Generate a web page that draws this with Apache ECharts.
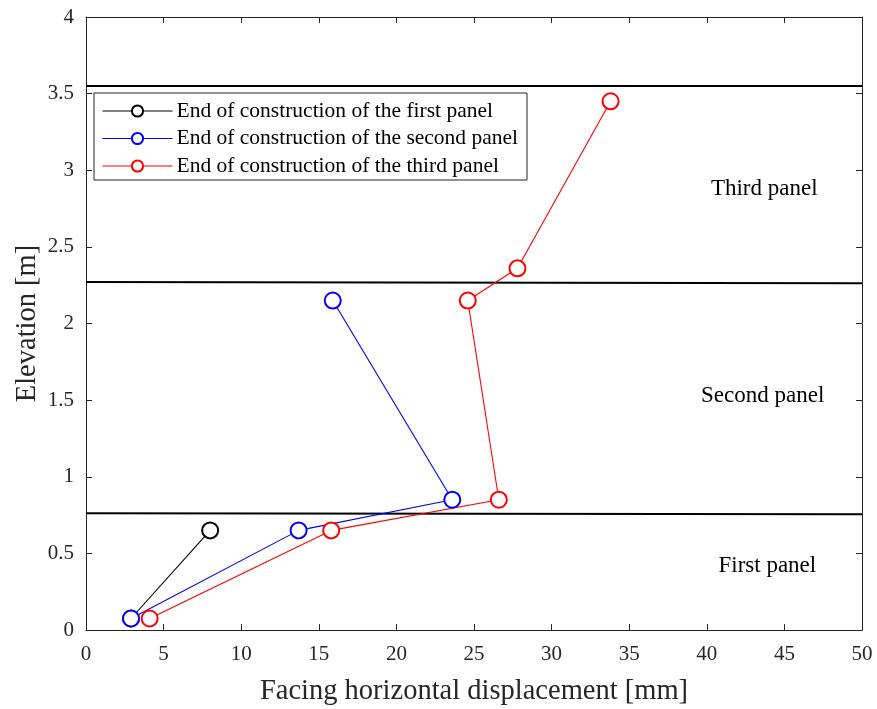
<!DOCTYPE html>
<html style="height: 100%">
<head>
  <meta charset="utf-8">
</head>
<body style="height: 100%; margin: 0">
  <div id="container" style="width: 877px; height: 709px"></div>
  <script type="text/javascript" src="https://fastly.jsdelivr.net/npm/echarts@6.0.0/dist/echarts.min.js"></script>
  <script type="text/javascript">
    // data
    var firstPanel = [[2.9, 0.075], [8.0, 0.65]];
    var secondPanel = [[2.9, 0.075], [13.7, 0.65], [23.6, 0.85], [15.9, 2.15]];
    var thirdPanel = [[4.1, 0.075], [15.8, 0.65], [26.6, 0.85], [24.6, 2.15], [27.8, 2.36], [33.8, 3.45]];
    var seriesNames = [
      'End of construction of the first panel',
      'End of construction of the second panel',
      'End of construction of the third panel'
    ];
    // panel boundaries (slightly sloped in the original)
    var boundaries = [
      [[0, 3.55], [50, 3.55]],
      [[0, 2.27], [50, 2.262]],
      [[0, 0.762], [50, 0.755]]
    ];
    var panelLabels = [
      { name: 'Third panel', value: [43.7, 2.88] },
      { name: 'Second panel', value: [43.6, 1.53] },
      { name: 'First panel', value: [43.9, 0.42] }
    ];

    var font = 'Liberation Serif';
    var axisColor = '#262626';

    var dom = document.getElementById('container');
    var myChart = echarts.init(dom, null, { renderer: 'canvas' });

    function pointSeries(name, data, color) {
      return {
        name: name,
        type: 'line',
        data: data,
        symbol: 'emptyCircle',
        symbolSize: 16,
        showAllSymbol: true,
        lineStyle: { color: color, width: 1.1 },
        itemStyle: { color: color, borderColor: color, borderWidth: 1.1 },
        emphasis: { disabled: true },
        z: 5
      };
    }

    var series = [];
    boundaries.forEach(function (b) {
      series.push({
        type: 'line',
        data: b,
        symbol: 'none',
        silent: true,
        lineStyle: { color: '#000', width: 2 },
        z: 3
      });
    });
    series.push(pointSeries(seriesNames[0], firstPanel, '#000000'));
    series.push(pointSeries(seriesNames[1], secondPanel, '#0000ff'));
    series.push(pointSeries(seriesNames[2], thirdPanel, '#ff0000'));
    series.push({
      type: 'scatter',
      data: panelLabels,
      symbolSize: 0,
      silent: true,
      itemStyle: { opacity: 1 },
      label: {
        show: true,
        position: 'inside',
        formatter: '{b}',
        fontFamily: font,
        fontSize: 23,
        color: '#000'
      }
    });

    var option = {
      backgroundColor: '#fff',
      animation: false,
      grid: { left: 86, right: 15, top: 17, bottom: 79, show: false, outerBoundsMode: 'none' },
      legend: {
        data: seriesNames,
        orient: 'vertical',
        left: 94,
        top: 93,
        backgroundColor: '#fff',
        borderColor: '#262626',
        borderWidth: 1,
        borderRadius: 0,
        padding: [7, 9, 3, 8],
        itemWidth: 70,
        itemHeight: 14,
        itemGap: 5.5,
        itemStyle: { borderWidth: 1 },
        lineStyle: { width: 1 },
        textStyle: { fontFamily: font, fontSize: 21.5, color: '#000', padding: [0, 0, 0, -1] },
        z: 10
      },
      xAxis: [{
        type: 'value',
        min: 0,
        max: 50,
        interval: 5,
        name: 'Facing horizontal displacement [mm]',
        nameLocation: 'middle',
        nameGap: 47,
        nameMoveOverlap: false,
        nameTextStyle: { fontFamily: font, fontSize: 28.5, color: '#262626' },
        axisLine: { show: true, lineStyle: { color: axisColor, width: 1 } },
        axisTick: { show: true, inside: true, length: 6, lineStyle: { color: axisColor } },
        axisLabel: { fontFamily: font, fontSize: 21, color: '#262626', margin: 14 },
        splitLine: { show: false }
      }, {
        type: 'value',
        position: 'top',
        min: 0,
        max: 50,
        interval: 5,
        axisLine: { show: true, onZero: false, lineStyle: { color: axisColor, width: 1 } },
        axisTick: { show: true, inside: true, length: 6, lineStyle: { color: axisColor } },
        axisLabel: { show: false },
        splitLine: { show: false }
      }],
      yAxis: [{
        type: 'value',
        min: 0,
        max: 4,
        interval: 0.5,
        name: 'Elevation [m]',
        nameLocation: 'middle',
        nameGap: 44,
        nameMoveOverlap: false,
        nameTextStyle: { fontFamily: font, fontSize: 28.5, color: '#262626' },
        axisLine: { show: true, lineStyle: { color: axisColor, width: 1 } },
        axisTick: { show: true, inside: true, length: 6, lineStyle: { color: axisColor } },
        axisLabel: { fontFamily: font, fontSize: 21, color: '#262626', margin: 12 },
        splitLine: { show: false }
      }, {
        type: 'value',
        position: 'right',
        min: 0,
        max: 4,
        interval: 0.5,
        axisLine: { show: true, onZero: false, lineStyle: { color: axisColor, width: 1 } },
        axisTick: { show: true, inside: true, length: 6, lineStyle: { color: axisColor } },
        axisLabel: { show: false },
        splitLine: { show: false }
      }],
      series: series
    };

    myChart.setOption(option);
    window.addEventListener('resize', myChart.resize);
  </script>
</body>
</html>
